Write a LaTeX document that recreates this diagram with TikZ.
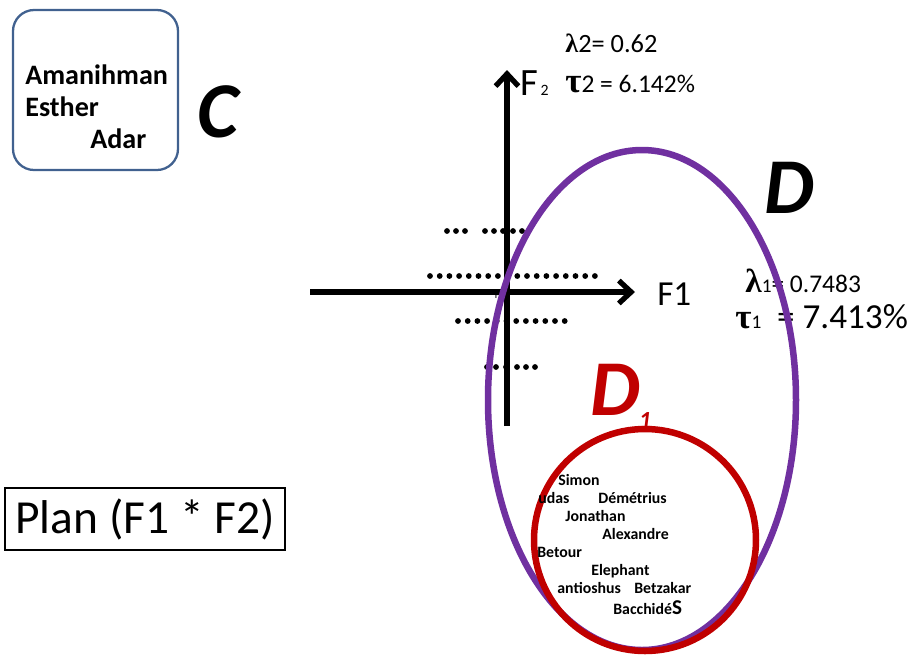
\documentclass[tikz,border=0pt]{standalone}
\usepackage{fontspec}
\setmainfont{Carlito}
\newfontfamily\greekfont{Liberation Serif}
\usepackage{tikz}
\usetikzlibrary{arrows.meta}
\definecolor{BoxBlue}{HTML}{41618F}
\definecolor{PlanPurple}{HTML}{7030A0}
\definecolor{SubRed}{HTML}{C00000}

\begin{document}
\begin{tikzpicture}[x=0.02cm,y=-0.02cm,>=Stealth]
  \useasboundingbox (0,0) rectangle (914,654);
  \tikzset{
    member/.style={font=\fontsize{16}{18}\selectfont\bfseries,anchor=base west,inner sep=0pt},
    small member/.style={font=\fontsize{9}{10}\selectfont\bfseries,anchor=base west,inner sep=0pt},
    big letter/.style={font=\fontsize{45}{48}\selectfont\bfseries\itshape,inner sep=0pt},
    dot/.style={circle,fill=black,inner sep=0pt,minimum size=3.3pt},
    axis/.style={->,line width=3pt,>={Straight Barb[length=7pt,width=13pt,line width=3pt]}}
  }
  % group C
  \draw[BoxBlue,line width=1.3pt,rounded corners=12pt] (13,10) rectangle (178,170);
  \node[member] (amani) at (25,84) {Amanihman};
  \node[member] (esther) at (25,116) {Esther};
  \node[member] (adar) at (90,148) {Adar};
  \node[big letter] (C) at (218,112) {C};
  % dotted rows
  \foreach \x in {447,456,465,485,494,503,513,522}
    \node[dot] at (\x,231) {};
  \foreach \k in {0,...,17}
    \node[dot] at (430+9.7*\k,276) {};
  \foreach \k in {0,...,11}
    \node[dot] at (458+9.7*\k,321) {};
  \foreach \x in {487,496,506,517,526,535}
    \node[dot] at (\x,367) {};
  % axes
  \coordinate (o) at (507,292);
  \coordinate (xs) at (310,292);
  \coordinate (xe) at (635,292);
  \coordinate (ys) at (507,426);
  \coordinate (ye) at (507,70);
  \draw[axis] (xs) -- (xe);
  \draw[axis] (ys) -- (ye);
  \node[font=\fontsize{6}{7}\selectfont,anchor=base east,inner sep=0pt] (f0) at (500,298) {F};
  \node[font=\fontsize{22}{24}\selectfont,anchor=base west,inner sep=0pt] (F2) at (520,95) {F{\fontsize{9}{10}\selectfont\,2}};
  \node[font=\fontsize{20}{22}\selectfont,anchor=base west,inner sep=0pt] (F1) at (657,305) {F1};
  % eigenvalues
  \node[font=\fontsize{15}{17}\selectfont,anchor=base west,inner sep=0pt] (lam2) at (565,52) {{\greekfont\bfseries λ}2= 0.62};
  \node[font=\fontsize{14.5}{17}\selectfont,anchor=base west,inner sep=0pt] (tau2) at (565,92) {{\greekfont\bfseries\fontsize{20}{22}\selectfont τ}2 = 6.142\%};
  \node[font=\fontsize{14.5}{17}\selectfont,anchor=base west,inner sep=0pt] (lam1) at (745,292) {{\greekfont\bfseries\fontsize{19}{21}\selectfont λ}{\fontsize{11}{12}\selectfont 1}= 0.7483};
  \node[font=\fontsize{20}{22}\selectfont,anchor=base west,inner sep=0pt] (tau1) at (735,328) {{\greekfont\bfseries τ}{\fontsize{11}{12}\selectfont 1} \ = 7.413\%};
  % group D
  \draw[PlanPurple,line width=3.7pt] (642,400) ellipse (154 and 250);
  \node[big letter] (D) at (789,188) {D};
  % group D1
  \draw[SubRed,line width=3.7pt] (645,540) circle (111);
  \node[big letter,text=SubRed] (D1) at (615,390) {D};
  \node[font=\fontsize{14}{15}\selectfont\bfseries\itshape,text=SubRed,inner sep=0pt] (one) at (645,421) {1};
  \node[small member] (simon) at (558,485) {Simon};
  \node[small member] (judas) at (538,503) {udas};
  \node[small member] (demet) at (598,503) {Démétrius};
  \node[small member] (jona) at (565,521) {Jonathan};
  \node[small member] (alex) at (602,539) {Alexandre};
  \node[small member] (betour) at (537,557) {Betour};
  \node[small member] (eleph) at (591,575) {Elephant};
  \node[small member] (antio) at (557,593) {antioshus};
  \node[small member] (betz) at (634,593) {Betzakar};
  \node[small member] (bacc) at (613,614) {Bacchidé{\fontsize{12}{13}\selectfont S}};
  % plan label
  \node[draw,line width=1.3pt,font=\fontsize{27}{29}\selectfont,minimum width=280*0.02cm,minimum height=62*0.02cm,inner sep=0pt] (plan) at (145,519) {Plan (F1 * F2)};
\end{tikzpicture}
\end{document}
